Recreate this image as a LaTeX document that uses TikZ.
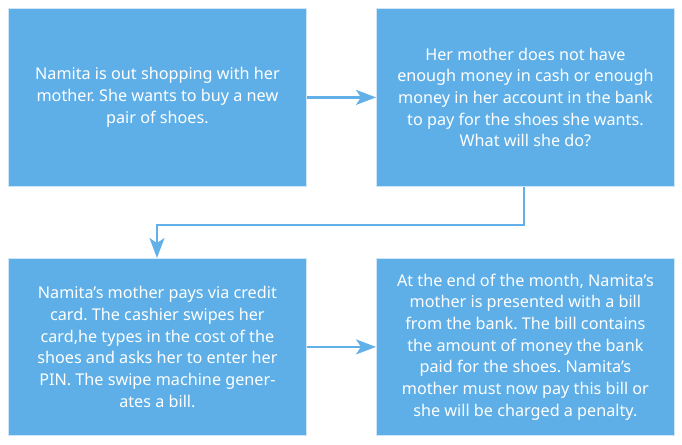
\documentclass[tikz,border=0pt]{standalone}
\usepackage{fontspec}
\setmainfont{Noto Sans}
\usetikzlibrary{arrows.meta}
\definecolor{boxblue}{HTML}{5EAFE7}
\definecolor{boxedge}{HTML}{CFE6F8}
\definecolor{linkblue}{HTML}{62B0E8}
\begin{document}
\frenchspacing
\begin{tikzpicture}[x=1pt,y=-1pt,
  stepbox/.style={draw=boxedge,line width=0.8pt,fill=boxblue,minimum width=298pt,minimum height=178pt,
    inner sep=0pt,anchor=north west,text=white,align=center,
    font=\fontsize{16.2}{21.7}\selectfont\frenchspacing},
  link/.style={draw=linkblue,line width=2.2pt,-{Stealth[length=20pt,width=15pt,inset=5pt]}}]
\useasboundingbox (0,0) rectangle (682,444);
\node[stepbox] (a) at (8,8) {Namita is out shopping with her\\mother. She wants to buy a new\\pair of shoes.};
\node[stepbox] (b) at (376,8) {Her mother does not have\\enough money in cash or enough\\money in her account in the bank\\to pay for the shoes she wants.\\What will she do?};
\node[stepbox,minimum height=177pt] (c) at (8,258) {Namita’s mother pays via credit\\card. The cashier swipes her\\card,he types in the cost of the\\shoes and asks her to enter her\\PIN. The swipe machine gener-\\ates a bill.};
\node[stepbox,minimum height=177pt] (d) at (376,258) {At the end of the month, Namita’s\\mother is presented with a bill\\from the bank. The bill contains\\the amount of money the bank\\paid for the shoes. Namita’s\\mother must now pay this bill or\\she will be charged a penalty.};
\coordinate (k1) at (524,225);
\coordinate (k2) at (157,225);
\draw[link] (a.east) -- (b.west);
\draw[link] (b.south -| k1) -- (k1) -- (k2) -- (c.north -| k2);
\draw[link] (c.east) -- (d.west);
\end{tikzpicture}
\end{document}
